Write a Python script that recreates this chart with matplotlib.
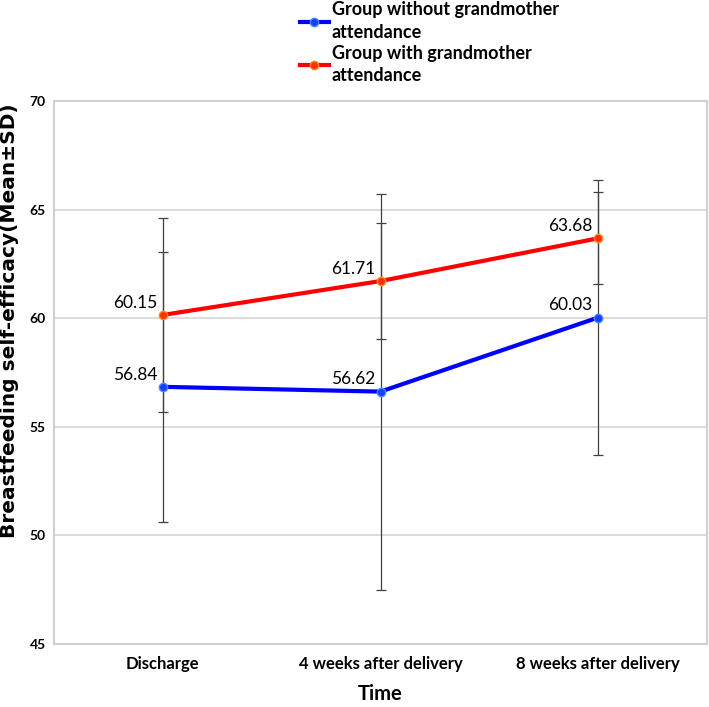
import matplotlib
matplotlib.use("Agg")
import matplotlib.pyplot as plt
import numpy as np

# data
times = ["Discharge", "4 weeks after delivery", "8 weeks after delivery"]
without_mean = [56.84, 56.62, 60.03]
without_sd = [6.22, 9.12, 6.32]
with_mean = [60.15, 61.71, 63.68]
with_sd = [4.48, 2.66, 2.12]
series_names = ["Group without grandmother\nattendance",
                "Group with grandmother\nattendance"]
yticks = [45, 50, 55, 60, 65, 70]

# no Calibri here, Lato is the closest narrow-ish humanist face
narrow = "Lato"

fig = plt.figure(figsize=(7.09, 7.07), dpi=100)
ax = fig.add_axes([54/709, 1 - 644/707, 653/709, 543/707])

x = np.arange(len(times))
grey = "#404040"

ax.errorbar(x, without_mean, yerr=without_sd, fmt="none", ecolor=grey,
            elinewidth=0.9, capsize=3.5, capthick=0.9, zorder=2)
ax.errorbar(x, with_mean, yerr=with_sd, fmt="none", ecolor=grey,
            elinewidth=0.9, capsize=3.5, capthick=0.9, zorder=2)

l1, = ax.plot(x, without_mean, color="#0000ff", lw=3, marker="o", ms=6,
              mfc="#1a3cff", mec="#3d8cff", mew=1, zorder=3)
l2, = ax.plot(x, with_mean, color="#ff0000", lw=3, marker="o", ms=6,
              mfc="#ff3000", mec="#ff8c1a", mew=1, zorder=4)

for xi, v in zip(x, without_mean):
    ax.annotate(f"{v:.2f}", (xi, v), xytext=(-4, 3), textcoords="offset points",
                ha="right", va="bottom", fontsize=12.5, family=narrow)
for xi, v in zip(x, with_mean):
    ax.annotate(f"{v:.2f}", (xi, v), xytext=(-4, 3), textcoords="offset points",
                ha="right", va="bottom", fontsize=12.5, family=narrow)

ax.set_xlim(-0.5, 2.5)
ax.set_ylim(45, 70)
ax.set_yticks(yticks)
ax.set_yticklabels([str(t) for t in yticks], fontsize=10, fontweight="bold",
                   family=narrow)
ax.set_xticks(x)
ax.set_xticklabels(times, fontsize=12, fontweight="bold", family=narrow)
ax.tick_params(axis="y", length=0, pad=6)
ax.tick_params(axis="x", length=0, pad=9)
ax.grid(axis="y", color="#d9d9d9", lw=1.3)
ax.set_axisbelow(True)
for s in ax.spines.values():
    s.set_color("#d0d0d0")
    s.set_linewidth(1.5)

ax.set_xlabel("Time", fontsize=14.5, fontweight="bold", family=narrow)
ax.xaxis.set_label_coords(0.5, -(694 - 644) / 543, transform=ax.transAxes)
ax.xaxis.label.set_va("center")
ax.set_ylabel("Breastfeeding self-efficacy(Mean±SD)", fontsize=14.5,
              fontweight="bold")
ax.yaxis.set_label_coords(-(54 - 10) / 653, (644 - 321) / 543)
ax.yaxis.label.set_va("center")

leg = fig.legend([l1, l2], series_names, loc="upper left",
                 bbox_to_anchor=(300/709, 0.998), frameon=False,
                 prop={"family": narrow, "weight": "bold", "size": 13},
                 handlelength=1.6, handletextpad=0.15, labelspacing=0.2,
                 borderaxespad=0, borderpad=0)
for t in leg.get_texts():
    t.set_linespacing(1.4)

fig.savefig("out.png", dpi=100)
